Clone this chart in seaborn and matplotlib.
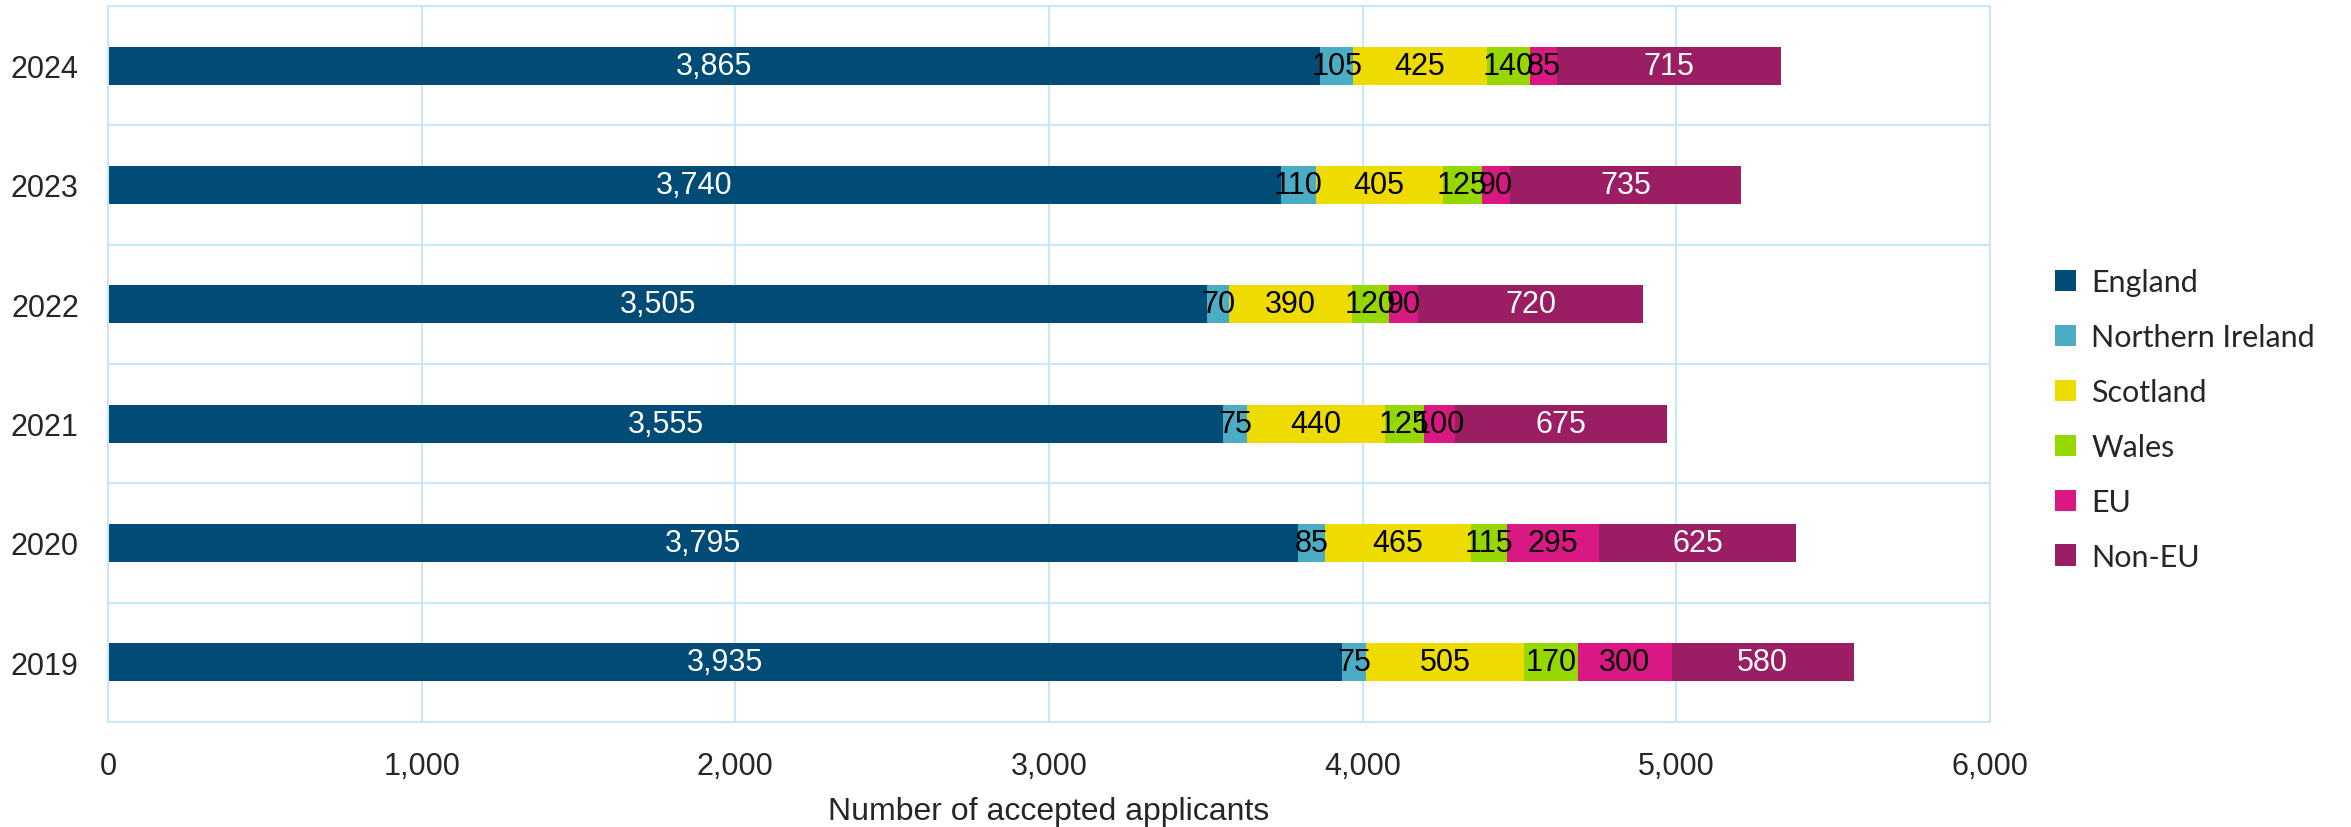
import matplotlib
matplotlib.use("Agg")
import matplotlib.pyplot as plt
import seaborn as sns
import pandas as pd
import numpy as np
from matplotlib.patches import Patch

years = ["2024", "2023", "2022", "2021", "2020", "2019"]
series = ["England", "Northern Ireland", "Scotland", "Wales", "EU", "Non-EU"]
england = [3865, 3740, 3505, 3555, 3795, 3935]
northern_ireland = [105, 110, 70, 75, 85, 75]
scotland = [425, 405, 390, 440, 465, 505]
wales = [140, 125, 120, 125, 115, 170]
eu = [85, 90, 90, 100, 295, 300]
non_eu = [715, 735, 720, 675, 625, 580]
colors = ["#014B77", "#4BACC6", "#EEDC00", "#97D700", "#DA1884", "#9B1D63"]
label_colors = ["white", "black", "black", "black", "black", "white"]
xticks = [0, 1000, 2000, 3000, 4000, 5000, 6000]

values = np.array([england, northern_ireland, scotland, wales, eu, non_eu], dtype=float)
cum = np.cumsum(values, axis=0)

sns.set_theme(style="white")
plt.rcParams["font.family"] = ["Liberation Sans", "DejaVu Sans"]

fig, ax = plt.subplots(figsize=(23.51, 8.28), dpi=100)
fig.subplots_adjust(left=108/2351, right=1990/2351, top=1-7/828, bottom=1-723/828)

grid_c = "#C9E7FA"
ax.set_axisbelow(True)

# draw from the total downwards so each earlier series covers its part
for i in range(len(series) - 1, -1, -1):
    df = pd.DataFrame({"year": years, "value": cum[i]})
    sns.barplot(data=df, x="value", y="year", order=years, color=colors[i],
                orient="h", width=0.32, ax=ax, saturation=1, linewidth=0, errorbar=None)

for i in range(len(series)):
    for j, y in enumerate(years):
        center = cum[i, j] - values[i, j] / 2
        ax.text(center, j, f"{int(values[i, j]):,}", ha="center", va="center",
                fontsize=22, color=label_colors[i])

ax.set_xlim(0, 6000)
ax.set_ylim(5.5, -0.5)
ax.set_xticks(xticks)
ax.set_xticklabels([f"{v:,}" for v in xticks], fontsize=22)
ax.set_yticks(range(len(years)))
ax.set_yticklabels(years, fontsize=22)
ax.set_yticks(np.arange(-0.5, 6.0, 1.0), minor=True)
ax.tick_params(axis="both", which="both", length=0)
ax.tick_params(axis="x", pad=21)
ax.tick_params(axis="y", pad=21)
ax.grid(True, axis="x", which="major", color=grid_c, linewidth=1.5)
ax.grid(True, axis="y", which="minor", color=grid_c, linewidth=1.5)
ax.grid(False, axis="y", which="major")
for s in ax.spines.values():
    s.set_color(grid_c)
    s.set_linewidth(1.5)
ax.set_ylabel("")
ax.set_xlabel("Number of accepted applicants", fontsize=23, labelpad=11)

handles = [Patch(facecolor=c, edgecolor="none", label=s) for s, c in zip(series, colors)]
fig.legend(handles=handles, loc="center left", bbox_to_anchor=(2027/2351, 0.492),
           frameon=False, handlelength=0.7, handleheight=0.7, handletextpad=0.5,
           labelspacing=0.88, prop={"family": "Lato", "size": 22})

fig.savefig("out.png", dpi=100)
